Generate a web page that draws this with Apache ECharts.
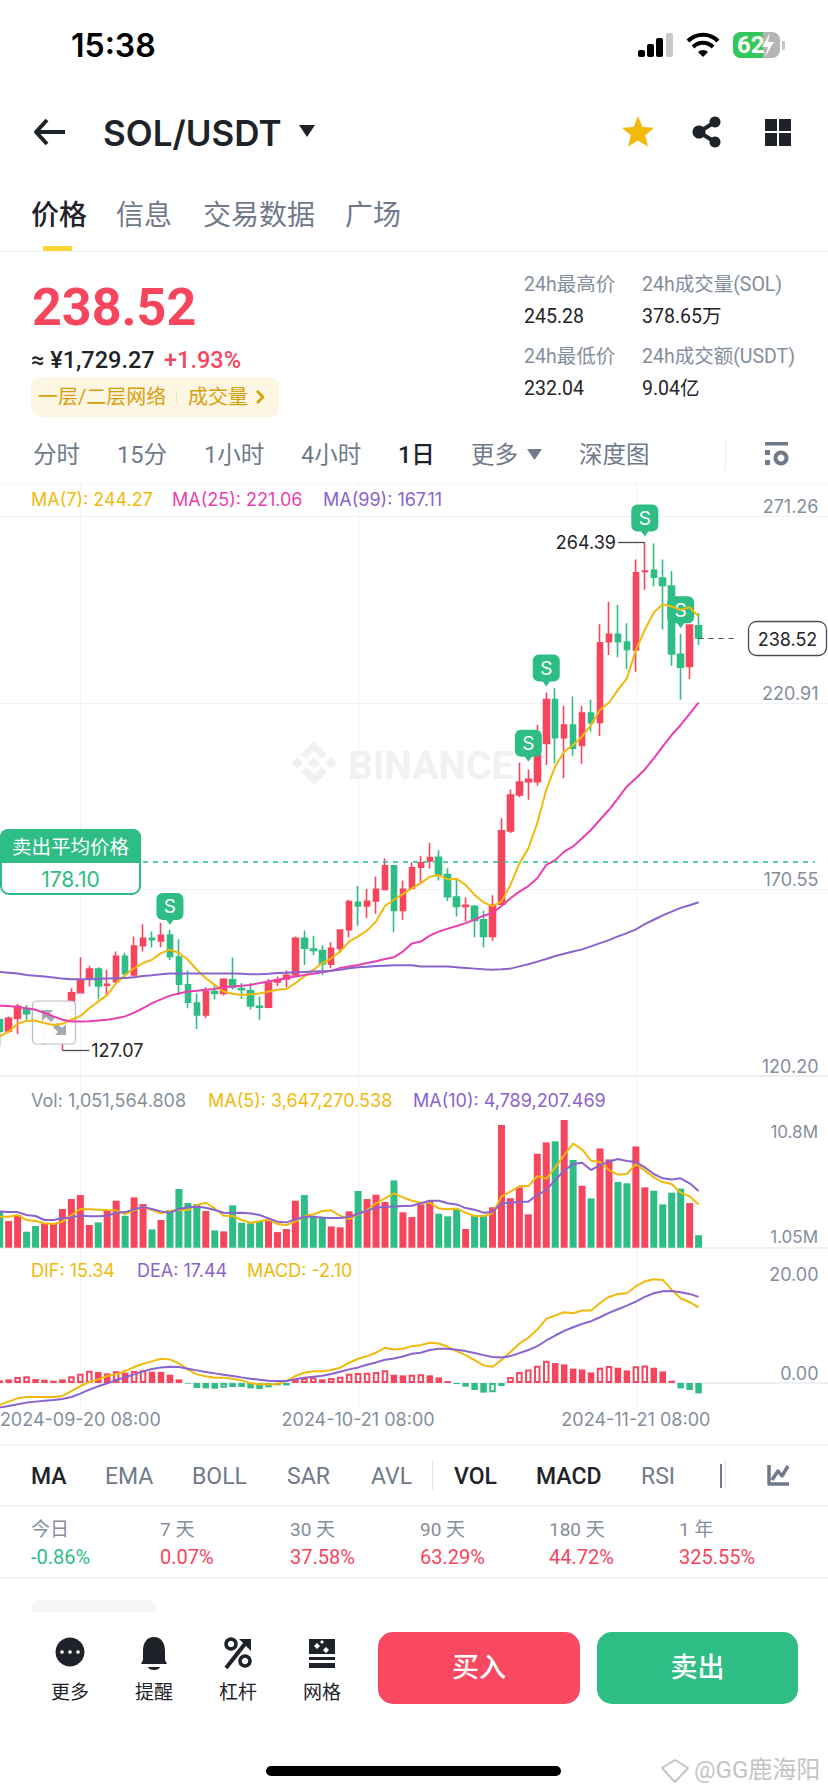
<!DOCTYPE html>
<html>
<head>
<meta charset="utf-8">
<title>SOL/USDT</title>
<script src="https://cdn.jsdelivr.net/npm/echarts@6/dist/echarts.min.js"></script>
<style>
  html, body { margin: 0; padding: 0; background: #fff; }
  #chart { width: 828px; height: 1792px; }
</style>
</head>
<body>
<div id="chart"></div>
<script>
// daily candles 2024-09-11 .. 2024-11-28
const dates = ['09-11','09-12','09-13','09-14','09-15','09-16','09-17','09-18','09-19','09-20','09-21','09-22','09-23','09-24','09-25','09-26','09-27','09-28','09-29','09-30',
  '10-01','10-02','10-03','10-04','10-05','10-06','10-07','10-08','10-09','10-10','10-11','10-12','10-13','10-14','10-15','10-16','10-17','10-18','10-19','10-20','10-21','10-22','10-23','10-24','10-25','10-26','10-27','10-28','10-29','10-30','10-31',
  '11-01','11-02','11-03','11-04','11-05','11-06','11-07','11-08','11-09','11-10','11-11','11-12','11-13','11-14','11-15','11-16','11-17','11-18','11-19','11-20','11-21','11-22','11-23','11-24','11-25','11-26','11-27','11-28'];
const opens = [135.35,132.4,135.8,138.3,137,133,133.5,135,138,142.7,146.6,149.1,144.7,145.7,152.5,147.5,155.4,157.4,156.7,158.3,
  152.3,144.8,139.9,136.7,143,142.5,146.2,143.8,143.2,139,138.8,145.6,146.4,147.5,157.4,154.5,154.1,150.4,154.7,159.7,
  167.1,166.1,167.5,170.6,177,164.9,170.9,176.6,178.3,179.3,174.6,168.5,166,166,162.4,157.9,166.6,186.4,196.1,199.7,
  199.7,210,221.9,211.6,215,209.5,218.2,215.7,237.5,239.5,237.4,235.3,256.5,256.8,254.7,252.5,234.1,230.8,241.8];
const closes = [132.2,135.8,139,137,135,136.5,135.5,138,142.7,146.2,149.1,144.5,145,152.5,147.8,155.3,157.4,157,158.2,152.5,
  145,140.1,136.7,143,142.5,146.3,144.2,143.5,139.1,138.8,145.3,146.1,147.4,157.4,154.7,154.1,150.5,154.7,159.6,167.3,
  166.1,167.4,170.6,177,164.9,170.6,176.4,177.8,179.2,174.7,168.6,166,166.3,162.2,157.9,166.4,186.4,196.1,199.6,200.3,
  206.9,221.9,211.6,215,208.7,218.2,215.6,237.2,239.5,237.5,235.4,256.1,256.6,254.9,252.7,234.2,230.6,242,238.52];
const lows = [128.2,131.8,131.5,135.4,133,128.6,131,127.07,137,142.5,144.4,140.9,142.1,144.8,146.6,147.1,153.8,154.9,155,151.5,
  142.1,138.5,132.9,135.8,140.9,141.9,143.5,141,138.2,135.4,138.5,144.5,144.2,147.1,150.2,152.9,147.5,149.3,153.4,157.6,
  160.8,162.8,164,170.3,159,162.4,170.6,172.4,176.2,173,167.4,163.3,161.9,157.7,155,156.7,166.4,185.8,195.5,194.8,
  198.6,204.2,204.7,200.6,206.7,204.5,213.2,212,233.9,233.3,230.1,229.4,251.5,252.5,240.8,231,221.8,227.4,236.6];
const highs = [135.8,136.3,139.7,139.4,138,137.5,137,139,143.9,152.3,150,149.6,148.9,153.8,153.5,157.9,161.2,159.2,161.6,159.7,
  157.1,148.7,142.5,144.2,144.5,146.6,152.2,145.3,145.3,141.7,146.4,147.1,148.7,157.9,159.5,158.1,155.5,156.3,159.6,167.8,
  171.5,170.7,174.1,179,177.2,173,177.9,179.6,183.2,181.2,176.3,173.6,168.4,166.4,164.8,169,189.8,197.6,204.8,203,
  215,223.8,224.9,220.2,222.7,220.2,221.8,242.2,248.3,247.4,242.5,259.7,264.39,264,259.7,256.6,239.6,242.2,245.28];
const ma7 = [130.9,132.2,134.3,135.1,135.1,134.5,134,134.3,135.4,136.4,138.5,140.3,142.1,145.3,147.5,149.3,150.7,151.6,153.4,154.3,
  153.5,151.6,148.9,146.6,144.8,143,142.4,142.1,142.3,142.5,143,143.5,143.7,145.3,147.1,148.9,150.7,152,153.8,156.5,
  157.9,159.5,161.9,166.1,167.8,169.3,170.9,172.3,174,174.5,173.3,173.5,171.8,169.1,167.1,166.1,167.3,171.8,177.6,181.7,
  188.5,197.5,203.8,207.8,209.6,211.9,215,219.1,221,224.5,227.6,235.3,240.7,245.4,247.6,247,246.1,246.8,244.27];
const ma25 = [139.2,139.1,138.8,138.5,138.1,137.2,136.3,135.4,134.9,134.9,135,135.2,135.4,135.8,136.3,137.3,138.5,139.9,140.9,141.9,
  142.5,143,143.2,143.5,143.7,144.2,144.4,144.6,144.8,145.3,145.7,146.2,146.6,147.1,147.5,147.8,148.2,148.6,149.4,149.8,
  150.2,150.7,151.2,151.8,152.3,153.8,156,156.5,158.1,159.2,160,160.7,161.5,162.4,163.5,164.2,166.1,168.2,170,171.5,
  173.6,177.2,178.5,180.8,182.2,184.4,186.7,189.4,192.1,195.2,198.4,200.6,203,206,209.2,212.3,215,218,221.06];
const ma99 = [148.3,148.1,147.9,147.5,147.3,147.1,146.8,146.5,146.3,146.3,146.3,146.4,146.5,146.6,146.7,146.9,147.2,147.4,147.7,147.9,
  147.9,147.9,147.9,147.9,147.9,147.9,147.9,147.8,147.7,147.7,147.8,148,148.1,148.2,148.3,148.4,148.5,148.6,148.9,149.3,
  149.6,149.7,149.9,150,150.1,150.1,150.1,149.8,149.8,149.8,149.8,149.6,149.4,149.2,149,148.9,149,149.2,149.8,150.4,
  151.1,151.8,152.6,153.2,153.8,154.4,155.2,156.1,156.9,157.9,158.8,159.8,161.2,162.4,163.6,164.6,165.6,166.3,167.11];
// volume, in millions
const volumes = [3.04,2.25,2.76,1.35,1.83,2.06,2.0,3.27,4.11,4.45,1.92,2.14,3.13,3.97,2.7,4.25,3.69,1.55,2.34,3.18,
  4.96,3.77,3.69,3.1,1.46,1.38,3.58,2.11,2.06,2.28,2.25,1.32,1.58,3.97,4.45,2.7,2.62,1.8,1.72,3.07,
  4.79,4.11,4.48,3.86,5.69,2.99,2.59,3.66,3.97,2.87,2.65,3.24,1.58,2.68,2.76,3.41,10.37,4.17,5.1,2.82,
  7.94,8.9,8.99,10.79,7.41,5.24,4.17,8.39,7.46,5.55,5.44,8.56,5.1,4.82,3.66,4.65,4.99,3.77,1.05];
const volMa5 = [2.62,2.62,2.76,2.34,2.25,2.06,2.0,2.2,2.76,3.27,3.24,3.21,3.18,3.16,2.85,3.18,3.46,3.18,2.9,3.1,
  3.18,3.18,3.61,3.8,3.32,2.7,2.68,2.34,2.11,2.23,2.39,2.0,1.92,2.2,2.68,2.82,3.1,3.16,2.7,2.42,
  2.82,3.18,3.75,4.17,4.59,4.25,3.97,3.8,3.8,3.32,3.24,3.32,2.96,2.68,2.68,2.9,4.31,4.73,5.21,5.21,
  6.06,5.83,6.79,7.83,8.79,8.31,7.35,7.24,6.56,6.17,6.23,7.07,6.51,5.94,5.55,5.38,4.65,4.34,3.65];
const volMa10 = [3.07,3.01,3.01,2.76,2.68,2.34,2.34,2.48,2.56,2.73,2.65,2.65,2.7,2.96,3.01,3.24,3.44,3.27,3.07,2.96,
  3.27,3.41,3.46,3.38,3.18,2.96,2.93,2.96,2.9,2.76,2.48,2.2,2.14,2.39,2.62,2.62,2.54,2.51,2.51,2.59,
  2.87,3.13,3.38,3.46,3.49,3.52,3.55,3.75,3.97,3.97,3.75,3.66,3.35,3.21,2.96,3.01,3.75,3.8,3.89,3.89,
  4.45,4.87,5.72,6.51,7.07,7.18,6.56,6.99,7.27,7.49,7.32,7.24,6.79,6.23,5.86,5.77,5.86,5.44,4.79];
const dif = [-4.44,-3.77,-3.1,-2.83,-2.83,-2.83,-2.83,-2.63,-1.62,-0.61,0.2,0.74,1.41,1.75,2.42,3.23,3.91,4.38,4.92,4.78,
  3.97,2.76,1.75,1.35,1.08,1.08,0.88,0.54,-0.07,-0.27,-0.27,-0.2,0.4,1.41,2.09,2.36,2.36,2.63,3.1,4.11,
  4.92,5.45,6.13,7.14,6.8,6.94,7.47,7.67,8.14,8,7.33,6.46,5.65,4.64,3.57,3.3,4.64,6.26,8,9.15,
  10.83,12.98,13.66,14.33,14.13,14.67,14.67,16.2,17.43,18.04,18.17,19.58,20.59,21,20.87,18.9,17.17,16.36,15.34];
const dea = [-4.98,-4.64,-4.31,-3.97,-3.77,-3.57,-3.43,-3.23,-2.83,-2.15,-1.35,-0.67,-0.07,0.61,1.14,1.75,2.36,2.83,3.16,3.3,
  3.23,2.9,2.56,2.22,1.95,1.68,1.41,1.14,0.88,0.67,0.47,0.4,0.4,0.74,1.08,1.28,1.48,1.82,2.29,2.76,
  3.16,3.7,4.17,4.71,4.98,5.38,5.92,6.12,6.67,6.93,6.93,6.73,6.46,6.06,5.65,5.25,5.18,5.45,6.06,6.67,
  7.47,8.61,9.62,10.57,11.3,11.98,12.52,13.32,14.2,14.94,15.68,16.49,17.43,18.17,18.57,18.64,18.37,18.04,17.44];
const macd = [0.54,0.74,1.21,1.35,0.81,0.67,0.47,0.74,1.35,1.89,2.49,2.22,1.95,2.36,2.09,2.42,2.56,2.29,2.25,1.68,
  0.74,-0.13,-1,-1.08,-1.15,-0.94,-0.81,-0.8,-1.08,-1.21,-0.88,-0.47,-0.5,0.81,1,1.14,0.74,1,1.28,1.89,
  2.02,2.09,2.22,2.56,1.68,1.55,1.68,1.75,1.55,1.14,0.4,-0.2,-0.74,-1.41,-1.95,-1.89,-0.61,1.21,2.22,2.76,
  3.5,4.51,4.04,3.77,2.9,2.76,2.15,3.1,3.43,3.1,2.56,3.37,3.57,3.1,2.36,0.47,-1.08,-1.41,-2.1];
const priceTicks = [120.20, 170.55, 220.91, 271.26];
const macdTicks = [0, 20];
const dateTicks = { '09-20': '2024-09-20 08:00', '10-21': '2024-10-21 08:00', '11-21': '2024-11-21 08:00' };
const sellMarks = [[19, 161], [59, 205.1], [61, 225.4], [72, 265.9], [76, 241.1]];
const sellAvg = 178.10;
const lastPrice = 238.52;

const UP = '#F6465D', DOWN = '#2EBD85', YEL = '#F0B90B', PINK = '#EA3FB0', PUR = '#8A63CC';
const GRID = '#EFF1F4', LABEL = '#848E9C', INK = '#1E2329', MUTED = '#707A8A';
const UI = 'Roboto, "Noto Sans CJK SC", sans-serif';
const NUM = 'Inter, "Noto Sans CJK SC", sans-serif';

// room on the right of the last candle, the axis keeps running up to the edge
const slots = dates.concat(Array(14).fill(''));
const isTick = (i, v) => v in dateTicks;

const T = (x, y, text, size, fill, o = {}) => ({
  type: 'text', x, y, silent: true, z: o.z || 6,
  style: { text, fontSize: size, fontWeight: o.w || 400, fontFamily: o.f || UI, fill, align: o.a || 'left', verticalAlign: 'middle', opacity: o.o == null ? 1 : o.o }
});
const R = (x, y, width, height, fill, r = 0, o = {}) => ({
  type: 'rect', silent: true, z: o.z || 6,
  shape: { x, y, width, height, r },
  style: { fill, stroke: o.stroke, lineWidth: o.lw || 0, opacity: o.o == null ? 1 : o.o }
});
// graphic has no plain path type, so every svg path gets its own registered shape
let pathCount = 0;
const P = (pathData, fill, o = {}) => {
  const type = 'svgPath' + (pathCount++);
  echarts.graphic.registerShape(type, echarts.graphic.extendPath(pathData, {}));
  return {
    type, silent: true, z: o.z || 6,
    style: { fill: fill || 'none', stroke: o.stroke, lineWidth: o.lw || 0, lineJoin: 'round' }
  };
};
const C = (cx, cy, r, fill, o = {}) => ({
  type: 'circle', silent: true, z: o.z || 6, shape: { cx, cy, r },
  style: { fill, stroke: o.stroke, lineWidth: o.lw || 0 }
});
function starPath(cx, cy, ro, ri) {
  let d = '';
  for (let k = 0; k < 10; k++) {
    const a = -Math.PI / 2 + k * Math.PI / 5, r = k % 2 ? ri : ro;
    d += (k ? 'L' : 'M') + (cx + r * Math.cos(a)).toFixed(1) + ' ' + (cy + r * Math.sin(a)).toFixed(1);
  }
  return d + 'Z';
}
const diamond = (cx, cy, r) => `M${cx - r} ${cy}L${cx} ${cy - r}L${cx + r} ${cy}L${cx} ${cy + r}Z`;

const statusBar = [
  T(71, 45, '15:38', 32, '#000', { w: 600, f: NUM }),
  R(638, 50, 7, 7, '#000', 2), R(647, 44, 7, 13, '#000', 2), R(656, 38, 7, 19, '#000', 2), R(666, 33, 7, 24, '#C7C7CC', 2),
  P('M688 41A21 21 0 0 1 718 41', null, { stroke: '#000', lw: 4 }),
  P('M693 47A14 14 0 0 1 713 47', null, { stroke: '#000', lw: 4 }),
  P('M698 52L703 57L708 52A7 7 0 0 0 698 52Z', '#000'),
  R(733, 32, 47, 26, '#B5B5B5', 8), R(733, 32, 30, 26, '#34C759', [8, 0, 0, 8]),
  T(737, 45, '62', 24, '#fff', { w: 700 }),
  P('M770 33L762 47H768L765 57L774 42H768Z', '#fff'),
  R(782, 41, 3, 9, '#C7C7CC', 1)
];
const header = [
  P('M47 120L36 132L47 144M37 132H65', null, { stroke: INK, lw: 4 }),
  T(103, 133, 'SOL/USDT', 35, INK, { w: 600, f: NUM }),
  P('M299 125H315L307 137Z', INK),
  P(starPath(638, 133, 17, 7.5), YEL),
  P('M715 122L699 132L715 142', null, { stroke: INK, lw: 4 }),
  C(715, 122, 5.5, INK), C(699, 132, 6.5, INK), C(715, 142, 5.5, INK),
  R(765, 119, 12, 12, INK), R(779, 119, 12, 12, INK), R(765, 133, 12, 13, INK), R(779, 133, 12, 13, INK),
  T(31, 215, '价格', 28, INK, { w: 500 }),
  T(116, 215, '信息', 28, MUTED), T(203, 215, '交易数据', 28, MUTED), T(345, 215, '广场', 28, MUTED),
  R(43, 246, 29, 5, '#FCD535'),
  R(0, 251, 828, 1, '#F0F1F3')
];
const ticker = [
  T(32, 307, '238.52', 52, UP, { w: 700 }),
  T(31, 360, '≈ ¥1,729.27', 23.5, INK, { w: 500 }),
  T(164, 360, '+1.93%', 23.5, UP, { w: 500 }),
  R(31, 377, 248, 40, '#FDF6E3', 9),
  T(38, 397, '一层/二层网络', 20, '#D89F0A'),
  R(176, 392, 1, 10, '#EBDFC0'),
  T(188, 397, '成交量', 20, '#D89F0A'),
  P('M257 391L263 397L257 403', null, { stroke: '#D89F0A', lw: 2.5 }),
  T(524, 284, '24h最高价', 19.5, LABEL), T(642, 284, '24h成交量(SOL)', 19.5, LABEL),
  T(524, 316, '245.28', 19.5, INK), T(642, 316, '378.65万', 19.5, INK),
  T(524, 356, '24h最低价', 19.5, LABEL), T(642, 356, '24h成交额(USDT)', 19.5, LABEL),
  T(524, 388, '232.04', 19.5, INK), T(642, 388, '9.04亿', 19.5, INK)
];
const intervals = [
  T(33, 455, '分时', 23.5, MUTED), T(117, 455, '15分', 23.5, MUTED), T(204, 455, '1小时', 23.5, MUTED), T(301, 455, '4小时', 23.5, MUTED),
  T(398, 455, '1日', 23.5, INK, { w: 500 }), T(471, 455, '更多', 23.5, MUTED),
  P('M527 449H542L534.5 460Z', MUTED),
  T(579, 455, '深度图', 23.5, MUTED),
  R(725, 440, 1, 30, '#EAECEF'),
  R(765, 442, 23, 3.5, MUTED), R(765, 450, 5, 5, MUTED), R(765, 460, 5, 5, MUTED),
  C(781, 458, 5.5, '#fff', { stroke: MUTED, lw: 4 }),
  R(0, 483, 828, 1, '#F3F4F6')
];
const overlays = [
  // watermark sits under the candles
  P(diamond(314, 763, 6), '#EFF1F2', { z: 0 }), P(diamond(297, 763, 6), '#EFF1F2', { z: 0 }), P(diamond(331, 763, 6), '#EFF1F2', { z: 0 }),
  P('M301 754L314 741L327 754L322 759L314 751L306 759Z', '#EFF1F2', { z: 0 }),
  P('M301 772L314 785L327 772L322 767L314 775L306 767Z', '#EFF1F2', { z: 0 }),
  T(348, 766, 'BINANCE', 39, '#EFF1F2', { w: 700, z: 0 }),
  T(31, 499, 'MA(7): 244.27', 18, YEL, { f: NUM }),
  T(172, 499, 'MA(25): 221.06', 18, PINK, { f: NUM }),
  T(323, 499, 'MA(99): 167.11', 18, PUR, { f: NUM }),
  T(31, 1100, 'Vol: 1,051,564.808', 18, LABEL, { f: NUM }),
  T(208, 1100, 'MA(5): 3,647,270.538', 18, YEL, { f: NUM }),
  T(413, 1100, 'MA(10): 4,789,207.469', 18, PUR, { f: NUM }),
  T(818, 1132, '10.8M', 17, LABEL, { f: NUM, a: 'right' }),
  T(818, 1237, '1.05M', 17, LABEL, { f: NUM, a: 'right' }),
  T(31, 1270, 'DIF: 15.34', 18, YEL, { f: NUM }),
  T(137, 1270, 'DEA: 17.44', 18, PUR, { f: NUM }),
  T(247, 1270, 'MACD: -2.10', 18, YEL, { f: NUM }),
  // sell average badge
  R(1, 830, 139, 64, '#fff', 8, { stroke: DOWN, lw: 2 }),
  R(0, 829, 141, 34, DOWN, [8, 8, 0, 0]),
  T(70.5, 847, '卖出平均价格', 19.5, '#fff', { a: 'center' }),
  T(70.5, 879, '178.10', 21, DOWN, { a: 'center', f: NUM }),
  // last price tag
  R(748.5, 621.5, 78, 34, '#fff', 8, { stroke: '#474D57', lw: 1.3 }),
  T(787.5, 639, '238.52', 18, INK, { a: 'center', f: NUM }),
  // fit-to-screen box: candles go under it, MA lines stay on top
  R(32.5, 1001, 43, 43, 'rgba(255,255,255,0.96)', 4, { stroke: '#B7BDC6', lw: 1.2, z: 2 }),
  P('M42 1010H53L50 1013L55 1018L51 1022L46 1017L42 1021Z', '#A3A9B3', { z: 2 }),
  P('M66 1035H55L58 1032L53 1027L57 1023L62 1028L66 1024Z', '#A3A9B3', { z: 2 })
];
const indicatorRow = [
  R(0, 1444, 828, 1.5, '#EEF0F2'),
  T(31, 1476, 'MA', 23, INK, { w: 500 }), T(105, 1476, 'EMA', 23, MUTED), T(192, 1476, 'BOLL', 23, MUTED),
  T(287, 1476, 'SAR', 23, MUTED), T(371, 1476, 'AVL', 23, MUTED),
  R(432, 1460, 1, 30, '#E3E5E8'),
  T(454, 1476, 'VOL', 23, INK, { w: 500 }), T(536, 1476, 'MACD', 23, INK, { w: 500 }), T(641, 1476, 'RSI', 23, MUTED),
  R(720, 1464, 2, 24, MUTED), R(725, 1460, 1, 30, '#E3E5E8'),
  P('M769 1465V1484H789M772 1480L778 1471L782 1476L788 1466', null, { stroke: MUTED, lw: 3.5 }),
  R(0, 1505, 828, 1.5, '#F0F1F3'),
  T(31, 1529, '今日', 19, LABEL), T(160, 1529, '7 天', 19, LABEL), T(290, 1529, '30 天', 19, LABEL),
  T(420, 1529, '90 天', 19, LABEL), T(549, 1529, '180 天', 19, LABEL), T(679, 1529, '1 年', 19, LABEL),
  T(31, 1557, '-0.86%', 20, DOWN), T(160, 1557, '0.07%', 20, UP), T(290, 1557, '37.58%', 20, UP),
  T(420, 1557, '63.29%', 20, UP), T(549, 1557, '44.72%', 20, UP), T(679, 1557, '325.55%', 20, UP),
  R(0, 1577, 828, 1.5, '#F0F1F3'),
  R(31, 1600, 126, 12, '#F5F5F5', [10, 10, 0, 0])
];
const footer = [
  C(70, 1652, 14.5, INK), C(62, 1652, 1.8, '#fff'), C(70, 1652, 1.8, '#fff'), C(78, 1652, 1.8, '#fff'),
  P('M154 1637C146 1637 143 1644 143 1651V1660L141 1664H167L165 1660V1651C165 1644 162 1637 154 1637ZM148 1667H160C159 1671 149 1671 148 1667Z', INK),
  P('M226 1668L248 1640', null, { stroke: INK, lw: 4 }),
  P('M239 1639H251V1651Z', INK),
  C(231, 1644, 5, '#fff', { stroke: INK, lw: 3.5 }), C(245, 1661, 5, '#fff', { stroke: INK, lw: 3.5 }),
  P('M309 1639H335V1654H309Z', INK),
  P(diamond(317, 1646, 3) + diamond(326, 1650, 3) + diamond(322, 1642, 2), '#fff'),
  R(309, 1657, 26, 3, INK), R(309, 1663, 26, 5, INK),
  T(70, 1692, '更多', 19, INK, { a: 'center' }), T(154, 1692, '提醒', 19, INK, { a: 'center' }),
  T(238, 1692, '杠杆', 19, INK, { a: 'center' }), T(322, 1692, '网格', 19, INK, { a: 'center' }),
  R(378, 1632, 202, 72, '#F84960', 15), T(479, 1668, '买入', 27, '#fff', { a: 'center', w: 500 }),
  R(597, 1632, 201, 72, DOWN, 15), T(697.5, 1668, '卖出', 27, '#fff', { a: 'center', w: 500 }),
  R(266, 1766, 295, 10, '#000', 5),
  P('M662 1768L675 1760L688 1768L675 1782Z', null, { stroke: '#C4C4C4', lw: 2 }),
  T(694, 1770, '@GG鹿海阳', 24, '#C4C4C4')
];

const hollowBar = (v, i) => {
  const c = v >= 0 ? UP : DOWN;
  const hollow = i > 0 && v > macd[i - 1];
  return { value: v, itemStyle: { color: hollow ? '#fff' : c, borderColor: c, borderWidth: hollow ? 2 : 0 } };
};
const line = (name, data, color, ax) => ({
  name, type: 'line', data, xAxisIndex: ax, yAxisIndex: ax, z: 4,
  symbol: 'none', smooth: false, lineStyle: { color, width: 2 }, silent: true
});
const leader = (from, to, value) => [
  { xAxis: from, yAxis: value, lineStyle: { color: '#474D57', width: 1.3, type: 'solid' },
    label: { show: true, position: 'end', formatter: value.toFixed(2), color: INK, fontSize: 18, fontFamily: NUM, distance: 2 } },
  { xAxis: to, yAxis: value }
];
const xAxisAt = (gridIndex, showLabel) => ({
  type: 'category', gridIndex, data: slots, boundaryGap: true,
  axisLine: { lineStyle: { color: '#E9EBEE', width: 1.5 } },
  axisTick: { show: false },
  splitLine: { show: true, interval: isTick, alignWithLabel: true, lineStyle: { color: GRID, width: 1 } },
  axisLabel: {
    show: showLabel, interval: isTick, formatter: v => dateTicks[v] || '',
    color: LABEL, fontSize: 18, fontFamily: NUM, margin: 3
  }
});

const chart = echarts.init(document.getElementById('chart'), null, { renderer: 'svg' });
chart.setOption({
  animation: false,
  backgroundColor: '#fff',
  grid: [
    // first candle sits half off the left edge, so the grid has to stick out
    { left: -4.78, width: 833.28, top: 484.1, height: 591.9, outerBoundsMode: 'none' },
    { left: -4.78, width: 833.28, top: 1076, height: 171.7, outerBoundsMode: 'none' },
    { left: -4.78, width: 833.28, top: 1247.7, height: 160, outerBoundsMode: 'none' }
  ],
  xAxis: [xAxisAt(0, false), xAxisAt(1, false), xAxisAt(2, true)],
  yAxis: [
    {
      gridIndex: 0, type: 'value', position: 'right', min: 120.20, max: 280.06, scale: true,
      axisLine: { show: false },
      axisTick: { show: false, customValues: priceTicks },
      splitLine: { show: true, lineStyle: { color: GRID, width: 1 } },
      axisLabel: {
        inside: true, customValues: priceTicks, formatter: v => v.toFixed(2), margin: 10,
        color: LABEL, fontSize: 18, fontFamily: NUM, verticalAlign: 'bottom', padding: [0, 0, 1, 0]
      }
    },
    { gridIndex: 1, type: 'value', position: 'right', min: 0, max: 14.51, show: false, splitLine: { show: false } },
    {
      gridIndex: 2, type: 'value', position: 'right', min: -5, max: 27.4,
      axisLine: { show: false },
      axisTick: { show: false, customValues: macdTicks },
      splitLine: { show: false },
      axisLabel: {
        inside: true, customValues: macdTicks, formatter: v => v.toFixed(2), margin: 10,
        color: LABEL, fontSize: 18, fontFamily: NUM, verticalAlign: 'bottom', padding: [0, 0, 1, 0]
      }
    }
  ],
  series: [
    {
      name: 'SOL/USDT', type: 'candlestick', z: 1, silent: true,
      xAxisIndex: 0, yAxisIndex: 0, barWidth: 6,
      data: opens.map((o, i) => [o, closes[i], lows[i], highs[i]]),
      itemStyle: { color: UP, color0: DOWN, borderColor: UP, borderColor0: DOWN, borderWidth: 1.6 },
      markLine: {
        silent: true, symbol: 'none', animation: false,
        lineStyle: { color: '#474D57', width: 1.2, type: [5, 5] },
        label: { show: false },
        data: [
          [{ xAxis: 16, yAxis: sellAvg, lineStyle: { color: DOWN, width: 1.6, type: [5, 5] } }, { xAxis: 91, yAxis: sellAvg }],
          [{ xAxis: 78, yAxis: lastPrice }, { xAxis: 82, yAxis: lastPrice }],
          leader(72, 69, 264.39),
          leader(7, 10, 127.07)
        ]
      }
    },
    {
      name: 'sell', type: 'scatter', z: 3, silent: true, xAxisIndex: 0, yAxisIndex: 0,
      data: sellMarks,
      symbol: 'path://M6 0H21A6 6 0 0 1 27 6V21A6 6 0 0 1 21 27H17L13.5 32L10 27H6A6 6 0 0 1 0 21V6A6 6 0 0 1 6 0Z',
      symbolSize: [27, 32], symbolOffset: [0, -16],
      itemStyle: { color: DOWN, opacity: 1 },
      label: { show: true, formatter: 'S', position: 'inside', offset: [0, -2], color: '#fff', fontSize: 19, fontFamily: NUM }
    },
    line('MA(7)', ma7, YEL, 0),
    line('MA(25)', ma25, PINK, 0),
    line('MA(99)', ma99, PUR, 0),
    {
      name: 'Vol', type: 'bar', xAxisIndex: 1, yAxisIndex: 1, barWidth: 7, silent: true,
      data: volumes,
      itemStyle: { color: p => (closes[p.dataIndex] >= opens[p.dataIndex] ? UP : DOWN) }
    },
    line('MA(5)', volMa5, YEL, 1),
    line('MA(10)', volMa10, PUR, 1),
    {
      name: 'MACD', type: 'bar', xAxisIndex: 2, yAxisIndex: 2, barWidth: 6.5, silent: true,
      data: macd.map(hollowBar)
    },
    line('DIF', dif, YEL, 2),
    line('DEA', dea, PUR, 2)
  ],
  graphic: { elements: [].concat(statusBar, header, ticker, intervals, overlays, indicatorRow, footer) }
});
</script>
</body>
</html>
